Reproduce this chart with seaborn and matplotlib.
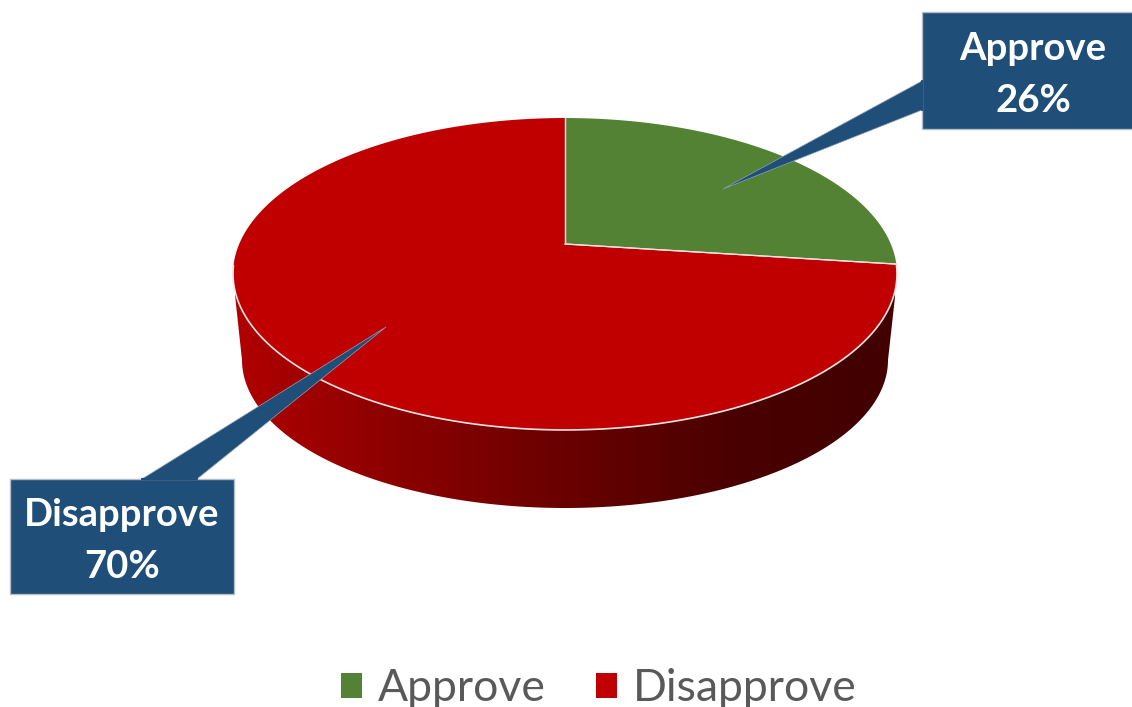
import matplotlib
matplotlib.use('Agg')
import matplotlib.pyplot as plt
import seaborn as sns
import numpy as np
from matplotlib.colors import LinearSegmentedColormap
from matplotlib.patches import Polygon

# data
categories = ['Approve', 'Disapprove']
values = [26, 70]
percent_labels = ['26%', '70%']

colors = ['#548235', '#C00000']
callout_color = '#1F4E79'
side_stops = ['#B00000', '#8A0000', '#6A0000', '#4A0000', '#420000']
edge_color = '#EFE4E4'

sns.set_theme(style='white')
plt.rcParams['font.family'] = ['Lato', 'DejaVu Sans']

fig, ax = plt.subplots(figsize=(11.32, 7.07), dpi=100)
fig.subplots_adjust(0, 0, 1, 1)

# the pie works out the angles, the tilt below puts them on the picture
wedges, _ = ax.pie(values, colors=colors, startangle=90, counterclock=False)

# tilted disc, k gives the perspective so the centre sits above the middle
cx, cy = 565, 244
a, b, k = 325.8, 150.2, 0.1923


def tilt(theta):
    x, y = np.cos(theta), np.sin(theta)
    w = 1 + k * y
    return np.column_stack([cx + a * x / w, cy - b * y / w])


ax.set_aspect('auto')
ax.axis('off')

# side of the pie
t = np.linspace(np.pi, 2 * np.pi, 200)
bottom = np.column_stack([565 + 323 * np.cos(t), 360 - 148 * np.sin(t)])
side_pts = np.vstack([[[235, 295]], bottom, [[895, 297]], [[895, 270]], [[235, 270]]])
side = Polygon(side_pts, closed=True, fc='none', ec='none', transform=ax.transData)
ax.add_patch(side)
cmap = LinearSegmentedColormap.from_list('side', side_stops)
im = ax.imshow(np.linspace(0, 1, 512)[None, :], cmap=cmap, aspect='auto',
               extent=(235, 895, 510, 265), zorder=1)
im.set_clip_path(side)
ax.set_xlim(0, 1132)
ax.set_ylim(707, 0)

# top face
handles = []
for w, col, name in zip(wedges, colors, categories):
    w.set_visible(False)
    th = np.radians(np.linspace(w.theta1, w.theta2, 300))
    rim = tilt(th)
    pts = np.vstack([[[cx, cy]], rim])
    face = Polygon(pts, closed=True, fc=col, ec='none', zorder=2, label=name)
    ax.add_patch(face)
    handles.append(face)
    # light line on the radii
    ax.plot([cx, rim[0, 0]], [cy, rim[0, 1]], color=edge_color, lw=0.9, zorder=3)
    ax.plot([cx, rim[-1, 0]], [cy, rim[-1, 1]], color=edge_color, lw=0.9, zorder=3)

# light line along the front rim only
th = np.radians(np.linspace(-172, -8, 300))
front = tilt(th)
ax.plot(front[:, 0], front[:, 1], color=edge_color, lw=1.2, zorder=3)

# callouts
boxes = [(922, 1133, 12, 129), (10, 234, 479, 594)]
tails = [[(723, 189), (922, 81), (922, 110)], [(386, 327), (142, 479), (197, 479)]]
text_pos = [(1033, 49.5, 100.5), (122, 514.5, 566.5)]
for box, tail, pos, name, pct in zip(boxes, tails, text_pos, categories, percent_labels):
    x0, x1, y0, y1 = box
    ax.add_patch(Polygon([(x0, y0), (x1, y0), (x1, y1), (x0, y1)], closed=True,
                         fc=callout_color, ec='#B4BCC4', lw=1.0, zorder=4))
    ax.add_patch(Polygon(tail, closed=True, fc=callout_color, ec='#8FA3B5', lw=0.5, zorder=4))
    # hide the box border where the tail joins
    ax.plot([tail[1][0], tail[2][0]], [tail[1][1], tail[2][1]], color=callout_color, lw=1.6, zorder=5)
    ax.text(pos[0], pos[1], name, color='white', fontsize=27.5, fontweight='bold',
            ha='center', va='center', zorder=6)
    ax.text(pos[0], pos[2], pct, color='white', fontsize=27.5, fontweight='bold',
            ha='center', va='center', zorder=6)

leg = ax.legend(handles, categories, loc='center', bbox_to_anchor=(599 / 1132, 1 - 688.5 / 707),
                ncol=2, frameon=False, fontsize=32, handlelength=0.47, handleheight=0.5,
                handletextpad=0.37, columnspacing=1.12, labelcolor='#595959')

fig.savefig('out.png', dpi=100)
